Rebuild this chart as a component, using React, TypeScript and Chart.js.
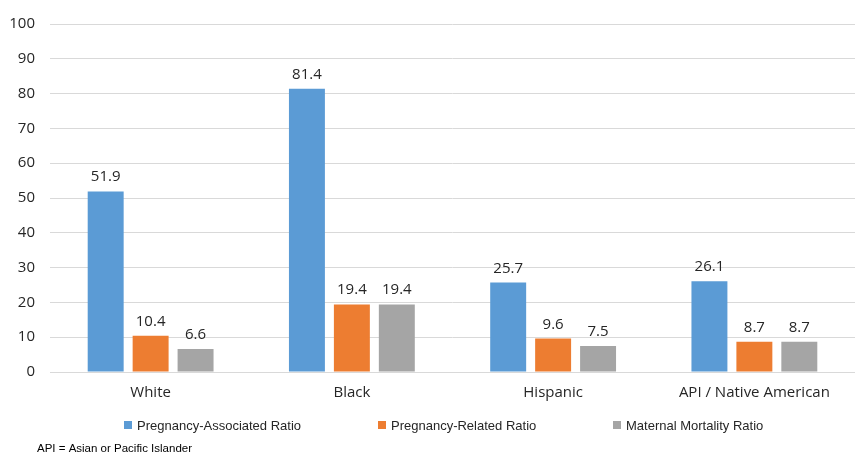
import React, { useEffect, useRef } from "react";
import { Chart, registerables } from "chart.js";

Chart.register(...registerables);

const categories = ["White", "Black", "Hispanic", "API / Native American"];
const seriesNames = ["Pregnancy-Associated Ratio", "Pregnancy-Related Ratio", "Maternal Mortality Ratio"];
const associatedValues = [51.9, 81.4, 25.7, 26.1];
const relatedValues = [10.4, 19.4, 9.6, 8.7];
const maternalValues = [6.6, 19.4, 7.5, 8.7];
const seriesColors = ["#5B9BD5", "#ED7D31", "#A5A5A5"];
const yTicks = [0, 10, 20, 30, 40, 50, 60, 70, 80, 90, 100];
const footnote = "API = Asian or Pacific Islander";

const MAIN_FONT = "'Open Sans', 'Noto Sans', sans-serif";
const SMALL_FONT = "'Liberation Sans', Arial, sans-serif";
const TEXT_COLOR = "#262626";

const valueLabelPlugin = {
  id: "valueLabels",
  afterDatasetsDraw(chart: any) {
    const ctx = chart.ctx;
    ctx.save();
    ctx.font = `15px ${MAIN_FONT}`;
    ctx.fillStyle = TEXT_COLOR;
    ctx.textAlign = "center";
    ctx.textBaseline = "alphabetic";
    chart.data.datasets.forEach((ds: any, di: number) => {
      const meta = chart.getDatasetMeta(di);
      meta.data.forEach((bar: any, i: number) => {
        const v = ds.data[i];
        ctx.fillText(v.toFixed(1), bar.x, bar.y - 10);
      });
    });
    ctx.restore();
  },
};

const legendPlugin = {
  id: "customLegend",
  afterDraw(chart: any) {
    const ctx = chart.ctx;
    const positions = [124, 378, 613];
    const y = 425;
    ctx.save();
    ctx.font = `13px ${SMALL_FONT}`;
    ctx.textBaseline = "middle";
    ctx.textAlign = "left";
    chart.data.datasets.forEach((ds: any, i: number) => {
      const x = positions[i];
      ctx.fillStyle = ds.backgroundColor;
      ctx.fillRect(x, y - 4, 8, 8);
      ctx.fillStyle = TEXT_COLOR;
      ctx.fillText(ds.label, x + 13, y + 1);
    });
    ctx.font = `11.5px ${SMALL_FONT}`;
    ctx.fillStyle = "#000000";
    ctx.fillText(footnote, 37, 449);
    ctx.restore();
  },
};

export default function App() {
  const ref = useRef<HTMLCanvasElement | null>(null);

  useEffect(() => {
    if (!ref.current) return;
    const chart = new Chart(ref.current, {
      type: "bar",
      data: {
        labels: categories,
        datasets: [associatedValues, relatedValues, maternalValues].map((d, i) => ({
          label: seriesNames[i],
          data: d,
          backgroundColor: seriesColors[i],
          borderWidth: 0,
          categoryPercentage: 0.67,
          barPercentage: 0.8,
        })),
      },
      options: {
        animation: false,
        responsive: false,
        layout: { padding: { top: 22, bottom: 43, left: 0, right: 0 } },
        plugins: {
          legend: { display: false },
          tooltip: { enabled: false },
        },
        scales: {
          x: {
            grid: { display: false },
            border: { color: "#D9D9D9", width: 1 },
            ticks: {
              color: TEXT_COLOR,
              font: { family: MAIN_FONT, size: 15 },
              padding: 4,
              maxRotation: 0,
            },
            afterFit(scale: any) {
              scale.height = 40;
            },
          },
          y: {
            min: 0,
            max: 100,
            afterBuildTicks(scale: any) {
              scale.ticks = yTicks.map((v) => ({ value: v }));
            },
            grid: { color: "#D9D9D9", drawTicks: false, lineWidth: 1 },
            border: { display: false },
            ticks: {
              color: TEXT_COLOR,
              font: { family: MAIN_FONT, size: 15 },
              padding: 15,
            },
            afterFit(scale: any) {
              scale.width = 50;
            },
          },
        },
      },
      plugins: [valueLabelPlugin, legendPlugin],
    });
    return () => chart.destroy();
  }, []);

  return (
    <div style={{ position: "absolute", left: 0, top: 0, width: 855, height: 455, background: "#fff" }}>
      <canvas ref={ref} width={855} height={455} style={{ width: 855, height: 455 }} />
    </div>
  );
}
